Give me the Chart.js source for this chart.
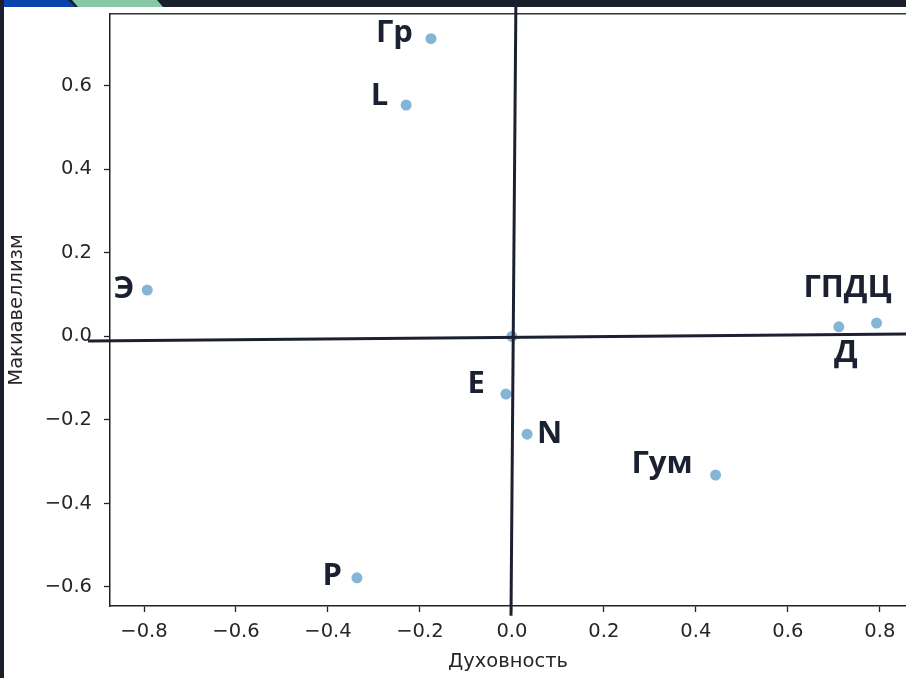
<!DOCTYPE html>
<html>
<head>
<meta charset="utf-8">
<script src="https://cdn.jsdelivr.net/npm/chart.js"></script>
<style>
  html, body { margin: 0; padding: 0; background: #1b1f2b; overflow: hidden; }
  canvas { display: block; }
</style>
</head>
<body>
<canvas id="chart" width="906" height="678"></canvas>
<script>
// data
const names = ["Гр", "L", "Э", "ГПДЦ", "Д", "", "E", "N", "Гум", "P"];
const duhovnost = [-0.176, -0.230, -0.793, 0.793, 0.711, 0.0, -0.013, 0.033, 0.443, -0.337];
const makiavellizm = [0.713, 0.554, 0.111, 0.032, 0.023, 0.0, -0.138, -0.234, -0.332, -0.578];

const xTicks = [-0.8, -0.6, -0.4, -0.2, 0.0, 0.2, 0.4, 0.6, 0.8];
const yTicks = [-0.6, -0.4, -0.2, 0.0, 0.2, 0.4, 0.6];

// hand drawn cross over the plot (data coordinates)
const crossH = [{x: -0.922, y: -0.0108}, {x: 0.857, y: 0.006}];
const crossV = [{x: 0.0087, y: 0.806}, {x: -0.002, y: -0.669}];

const ink = "#1b2130";
const tickFont = {family: "DejaVu Sans", size: 19.5};

const fmt = v => v.toFixed(1).replace("-", "\u2212");

// where each label sits next to its point
const labelPlace = [
  ["right", -18, -5],
  ["right", -18, -9],
  ["right", -13, -1],
  ["center", -29, -35],
  ["center", 7, 26],
  null,
  ["right", -21, -10],
  ["left", 10, 0],
  ["right", -23, -11],
  ["right", -15, -2]
];

const noPad = s => { s.paddingTop = 0; s.paddingBottom = 0; s.paddingLeft = 0; s.paddingRight = 0; };

const backdrop = {
  id: "backdrop",
  beforeDraw(chart) {
    const c = chart.ctx;
    c.save();
    c.fillStyle = "#1b1f2b";
    c.fillRect(0, 0, chart.width, chart.height);
    c.fillStyle = "#ffffff";
    c.fillRect(4, 7, chart.width - 4, chart.height - 7);
    c.fillStyle = "#0b43ae";
    c.beginPath();
    c.moveTo(4, 0); c.lineTo(68, 0); c.lineTo(75, 7); c.lineTo(4, 7);
    c.fill();
    c.fillStyle = "#86c8a5";
    c.beginPath();
    c.moveTo(72, 0); c.lineTo(157, 0); c.lineTo(163, 7); c.lineTo(78, 7);
    c.fill();
    c.restore();
  }
};

const pointLabels = {
  id: "pointLabels",
  afterDatasetsDraw(chart) {
    const c = chart.ctx;
    const meta = chart.getDatasetMeta(2);
    c.save();
    c.font = "bold 31px 'Open Sans'";
    c.fillStyle = ink;
    c.textBaseline = "middle";
    meta.data.forEach((pt, i) => {
      const p = labelPlace[i];
      if (!p || !names[i]) return;
      c.textAlign = p[0];
      c.fillText(names[i], pt.x + p[1], pt.y + p[2]);
    });
    c.restore();
  }
};

new Chart(document.getElementById("chart"), {
  type: "scatter",
  data: {
    datasets: [
      {
        type: "line",
        data: crossH,
        borderColor: ink,
        borderWidth: 3,
        pointRadius: 0,
        clip: false,
        order: 0
      },
      {
        type: "line",
        data: crossV,
        borderColor: ink,
        borderWidth: 3,
        pointRadius: 0,
        clip: false,
        order: 0
      },
      {
        data: duhovnost.map((x, i) => ({x: x, y: makiavellizm[i]})),
        backgroundColor: "rgba(31,119,180,0.55)",
        borderColor: "rgba(31,119,180,0.55)",
        borderWidth: 0,
        pointRadius: 5.5,
        order: 1
      }
    ]
  },
  options: {
    responsive: false,
    animation: false,
    devicePixelRatio: 1,
    layout: {autoPadding: false, padding: {top: 14, left: 0, right: 0, bottom: 0}},
    plugins: {legend: {display: false}, tooltip: {enabled: false}},
    scales: {
      x: {
        type: "linear",
        position: "bottom",
        min: -0.874,
        max: 0.857,
        afterBuildTicks: s => { s.ticks = xTicks.map(v => ({value: v})); },
        afterFit: s => { s.height = 72; noPad(s); },
        ticks: {callback: fmt, color: "#262626", font: tickFont, padding: 8, maxRotation: 0},
        grid: {drawOnChartArea: false, drawTicks: true, tickLength: 6, tickWidth: 1.3, tickColor: "#222"},
        border: {display: true, color: "#222", width: 1.5},
        title: {display: true, text: "Духовность", color: "#262626", font: tickFont, padding: {top: 0, bottom: 4}}
      },
      xTop: {
        type: "linear",
        position: "top",
        min: -0.874,
        max: 0.857,
        afterFit: s => { s.height = 0; noPad(s); },
        ticks: {display: false},
        grid: {drawOnChartArea: false, drawTicks: false},
        border: {display: true, color: "#333", width: 1.5}
      },
      y: {
        type: "linear",
        position: "left",
        min: -0.6455,
        max: 0.772,
        afterBuildTicks: s => { s.ticks = yTicks.map(v => ({value: v})); },
        afterFit: s => { s.width = 110; noPad(s); },
        ticks: {callback: fmt, color: "#262626", font: tickFont, padding: 12},
        grid: {drawOnChartArea: false, drawTicks: true, tickLength: 6, tickWidth: 1.3, tickColor: "#222"},
        border: {display: true, color: "#222", width: 1.5},
        title: {display: true, text: "Макиавеллизм", color: "#262626", font: tickFont, padding: {top: 5, bottom: 0}}
      }
    }
  },
  plugins: [backdrop, pointLabels]
});
</script>
</body>
</html>
